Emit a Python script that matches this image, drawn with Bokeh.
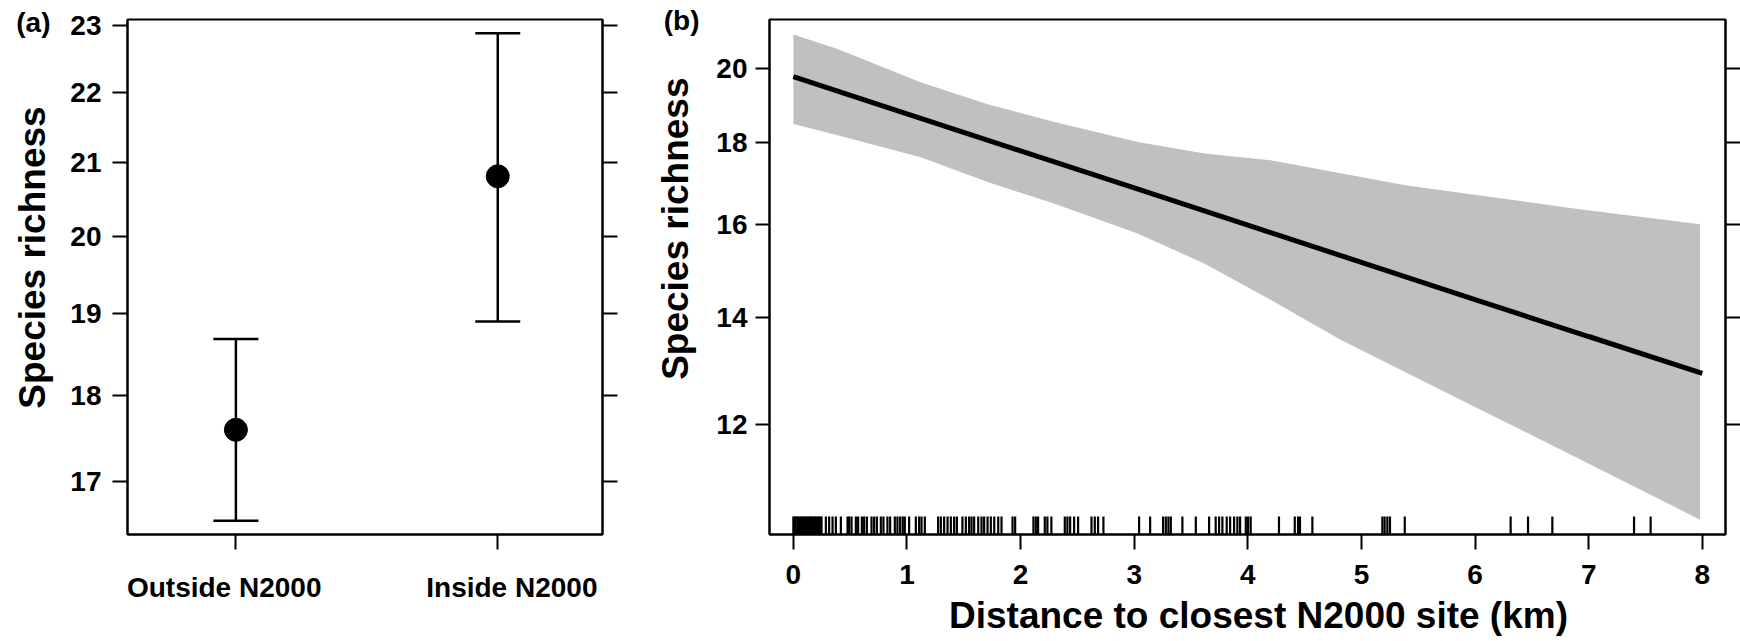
import math
import json
from bokeh.plotting import figure
from bokeh.layouts import row
from bokeh.models import (Range1d, FixedTicker, PrintfTickFormatter, LogAxis, LinearAxis,
                          ColumnDataSource, Whisker, TeeHead, CustomJSTickFormatter)
from bokeh.embed import file_html
from bokeh.resources import INLINE

FONT = "Liberation Sans"

# ---------------- data: panel (a) ----------------
groups = ["Outside N2000", "Inside N2000"]
group_pos = [1, 2]
mean_a = [17.59, 20.81]
lower_a = [16.56, 18.90]
upper_a = [18.68, 22.88]
yticks_a = [17, 18, 19, 20, 21, 22, 23]

# ---------------- data: panel (b) ----------------
fit_x = [0, 1, 2, 3, 4, 5, 6, 7, 8]
fit_y = [19.78, 18.75, 17.78, 16.86, 15.98, 15.15, 14.36, 13.62, 12.92]
band_upper_x = [0.0, 0.39, 1.12, 1.71, 2.30, 3.03, 3.62, 3.94, 4.20, 5.40, 6.87, 7.98]
band_upper_y = [21.01, 20.58, 19.62, 19.01, 18.53, 18.01, 17.71, 17.62, 17.54, 16.92, 16.37, 16.00]
band_lower_x = [0.0, 0.39, 1.12, 1.71, 2.30, 3.03, 3.62, 4.20, 4.82, 5.99, 6.87, 7.98]
band_lower_y = [18.48, 18.18, 17.62, 17.00, 16.48, 15.79, 15.12, 14.36, 13.55, 12.32, 11.47, 10.47]
rug_x = [0.00, 0.012, 0.02, 0.035, 0.043, 0.058, 0.07, 0.081, 0.095, 0.104, 0.118, 0.13,
         0.141, 0.155, 0.163, 0.178, 0.19, 0.201, 0.215, 0.226, 0.24, 0.248,
         0.286, 0.315, 0.345, 0.374, 0.418, 0.477, 0.491, 0.512, 0.55, 0.57, 0.603,
         0.623, 0.647, 0.688, 0.711, 0.735, 0.77, 0.793, 0.828, 0.852, 0.893, 0.916,
         0.94, 0.963, 0.981, 1.019, 1.078, 1.107, 1.128, 1.157, 1.274, 1.298, 1.327,
         1.357, 1.386, 1.415, 1.439, 1.488, 1.518, 1.547, 1.568, 1.591, 1.627, 1.656,
         1.679, 1.709, 1.738, 1.768, 1.803, 1.832, 1.929, 1.952, 2.113, 2.134, 2.154,
         2.213, 2.236, 2.271, 2.389, 2.412, 2.436, 2.471, 2.506, 2.624, 2.653, 2.682,
         2.729, 3.043, 3.14, 3.254, 3.278, 3.301, 3.322, 3.424, 3.542, 3.659, 3.717,
         3.747, 3.776, 3.814, 3.844, 3.879, 3.908, 3.932, 3.982, 4.002, 4.025, 4.274,
         4.413, 4.442, 4.459, 4.568, 5.184, 5.204, 5.228, 5.251, 5.381, 6.313, 6.466,
         6.68, 7.399, 7.545]
xticks_b = [0, 1, 2, 3, 4, 5, 6, 7, 8]
yticks_b = [12, 14, 16, 18, 20]
y_title = "Species richness"
x_title_b = "Distance to closest N2000 site (km)"

# ---------------- layout constants ----------------
H = 641
XR_A = (0.586, 2.4)
YR_A = (16.41, 23.09)
XR_B = (-0.21, 8.204)
YR_B = (10.25, 21.47)
A_W, A_L, A_R, A_T, A_B = 640, 127, 38, 19, 105
B_W, B_L, B_R, B_T, B_B = 1100, 129, 15, 17, 107
CAT_LABEL_SHIFT_PX = [-11.7, 14.1]   # category labels sit slightly off their ticks


def px_ylog(dpy, height, rng):
    lo, hi = math.log(rng[0]), math.log(rng[1])
    return math.exp(hi - dpy / height * (hi - lo))


def px_x(dpx, width, rng):
    return rng[0] + dpx / width * (rng[1] - rng[0])


def style_axis(ax, tick_out, label_size="28px"):
    ax.major_tick_out = tick_out
    ax.major_tick_in = 0
    ax.minor_tick_out = 0
    ax.minor_tick_in = 0
    ax.major_tick_line_width = 2
    ax.major_tick_line_color = "black"
    ax.axis_line_width = 2
    ax.axis_line_color = "black"
    ax.major_label_text_font = FONT
    ax.major_label_text_font_style = "bold"
    ax.major_label_text_font_size = label_size
    ax.major_label_text_color = "black"


def text_axis(cls, texts, positions, standoff, size, orientation="horizontal"):
    # a tick-free axis carrying labels only (used for titles, tags, category names)
    ax = cls(ticker=FixedTicker(ticks=list(positions)),
             formatter=CustomJSTickFormatter(args=dict(labels=list(texts)),
                                             code="return labels[index];"))
    ax.axis_line_color = None
    ax.major_tick_line_color = None
    ax.major_tick_out = 0
    ax.major_tick_in = 0
    ax.minor_tick_out = 0
    ax.minor_tick_in = 0
    ax.major_label_text_font = FONT
    ax.major_label_text_font_style = "bold"
    ax.major_label_text_font_size = size
    ax.major_label_text_color = "black"
    ax.major_label_standoff = standoff
    ax.major_label_orientation = orientation
    return ax


def base_fig(w, xr, yr, l, r, t, b):
    p = figure(width=w, height=H, x_range=Range1d(*xr), y_range=Range1d(*yr),
               y_axis_type="log", output_backend="svg", toolbar_location=None,
               min_border_left=l, min_border_right=r, min_border_top=t,
               min_border_bottom=b)
    p.grid.visible = False
    p.outline_line_color = "black"
    p.outline_line_width = 2
    p.outline_line_alpha = 1
    p.background_fill_color = "white"
    p.border_fill_color = "white"
    return p


# ---------------- panel (a) ----------------
p1 = base_fig(A_W, XR_A, YR_A, A_L, A_R, A_T, A_B)
fh_a = H - A_T - A_B
fw_a = A_W - A_L - A_R
src_a = ColumnDataSource(dict(x=group_pos, m=mean_a, lo=lower_a, hi=upper_a))
p1.add_layout(Whisker(source=src_a, base="x", lower="lo", upper="hi", dimension="height",
                      line_width=2.5, line_color="black",
                      upper_head=TeeHead(size=45, line_width=2.5, line_color="black"),
                      lower_head=TeeHead(size=45, line_width=2.5, line_color="black")))
p1.scatter("x", "m", source=src_a, size=23, color="black")

p1.xaxis.ticker = FixedTicker(ticks=group_pos)
p1.xaxis.formatter = CustomJSTickFormatter(code="return '';")
style_axis(p1.xaxis[0], 15, "0px")
p1.xaxis.major_label_standoff = 0
units_per_px_a = (XR_A[1] - XR_A[0]) / fw_a
cat_label_pos = [g + s * units_per_px_a for g, s in zip(group_pos, CAT_LABEL_SHIFT_PX)]
p1.add_layout(text_axis(LinearAxis, groups, cat_label_pos, 22, "28px"), "below")

p1.yaxis.ticker = FixedTicker(ticks=yticks_a)
p1.yaxis.formatter = PrintfTickFormatter(format="%d")
style_axis(p1.yaxis[0], 15)
p1.yaxis.major_label_standoff = 11

ra = LogAxis(ticker=FixedTicker(ticks=yticks_a),
             formatter=CustomJSTickFormatter(code="return ''"))
style_axis(ra, 15, "0px")
ra.major_label_standoff = 0
p1.add_layout(ra, "right")

p1.add_layout(text_axis(LogAxis, [y_title], [px_ylog(258 - A_T, fh_a, YR_A)], 14, "37px",
                        "vertical"), "left")
p1.add_layout(text_axis(LogAxis, ["(a)"], [px_ylog(22 - A_T, fh_a, YR_A)], -41, "28px"), "left")

# ---------------- panel (b) ----------------
p2 = base_fig(B_W, XR_B, YR_B, B_L, B_R, B_T, B_B)
fh_b = H - B_T - B_B
fw_b = B_W - B_L - B_R
p2.patch(band_upper_x + band_lower_x[::-1], band_upper_y + band_lower_y[::-1],
         fill_color="#c0c0c0", line_color=None)
p2.line(fit_x, fit_y, line_width=5, color="black")
rug_len_px = 18
rug_top = math.exp(math.log(YR_B[0]) + rug_len_px / fh_b * (math.log(YR_B[1]) - math.log(YR_B[0])))
p2.segment(x0=rug_x, y0=[YR_B[0]] * len(rug_x), x1=rug_x, y1=[rug_top] * len(rug_x),
           line_width=2.2, color="black")

p2.xaxis.ticker = FixedTicker(ticks=xticks_b)
p2.xaxis.formatter = PrintfTickFormatter(format="%d")
style_axis(p2.xaxis[0], 15)
p2.xaxis.major_label_standoff = 15
p2.add_layout(text_axis(LinearAxis, [x_title_b], [px_x(1258 - 640 - B_L, fw_b, XR_B)], 8,
                        "37px"), "below")

p2.yaxis.ticker = FixedTicker(ticks=yticks_b)
p2.yaxis.formatter = PrintfTickFormatter(format="%d")
style_axis(p2.yaxis[0], 14)
p2.yaxis.major_label_standoff = 8

rb = LogAxis(ticker=FixedTicker(ticks=yticks_b),
             formatter=CustomJSTickFormatter(code="return ''"))
style_axis(rb, 15, "0px")
rb.major_label_standoff = 0
p2.add_layout(rb, "right")

p2.add_layout(text_axis(LogAxis, [y_title], [px_ylog(227 - B_T, fh_b, YR_B)], 17, "37px",
                        "vertical"), "left")
p2.add_layout(text_axis(LogAxis, ["(b)"], [px_ylog(18.5 - B_T, fh_b, YR_B)], -47, "28px"), "left")

layout = row(p1, p2)
open("out.html", "w").write(file_html(layout, INLINE))
